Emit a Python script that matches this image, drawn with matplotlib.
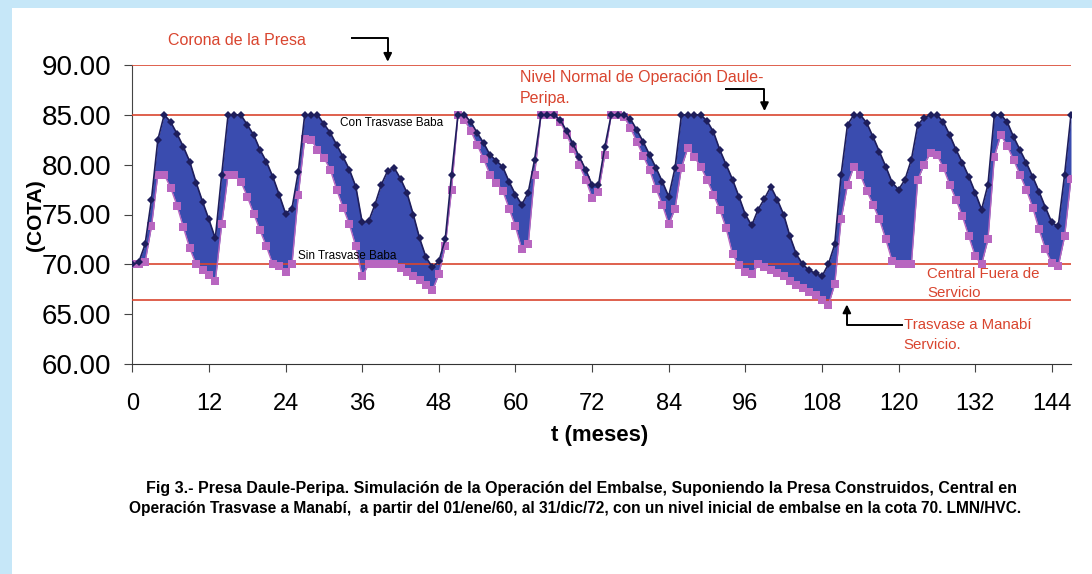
import numpy as np
import matplotlib
matplotlib.use("Agg")
import matplotlib.pyplot as plt
from matplotlib.patches import Rectangle

plt.rcParams['font.family'] = ['Liberation Sans', 'DejaVu Sans']

# niveles del embalse, mes a mes (lectura del grafico)
meses = np.arange(148)
con_trasvase = [
    70.0, 70.2, 72.0, 76.5, 82.5, 85.0, 84.3, 83.1, 81.8, 80.3,
    78.2, 76.3, 74.5, 72.6, 79.0, 85.0, 85.0, 85.0, 84.0, 83.0,
    81.5, 80.3, 78.8, 77.0, 75.1, 75.6, 79.3, 85.0, 85.0, 85.0,
    84.1, 83.2, 82.0, 80.8, 79.5, 77.8, 74.2, 74.3, 76.0, 78.0,
    79.4, 79.7, 78.6, 77.2, 75.0, 72.6, 70.7, 69.7, 70.3, 72.5,
    79.0, 85.0, 85.0, 84.3, 83.2, 82.2, 81.0, 80.4, 79.8, 78.3,
    77.0, 76.0, 77.2, 80.5, 85.0, 85.0, 85.0, 84.5, 83.4, 82.1,
    80.8, 79.5, 78.0, 78.0, 81.8, 85.0, 85.0, 85.0, 84.6, 83.5,
    82.3, 81.0, 79.7, 78.3, 76.8, 79.7, 85.0, 85.0, 85.0, 85.0,
    84.4, 83.3, 81.5, 80.0, 78.5, 76.8, 75.0, 73.9, 75.5, 76.6,
    77.8, 76.5, 75.0, 72.8, 71.0, 70.0, 69.4, 69.1, 68.8, 70.0,
    72.0, 79.0, 84.0, 85.0, 85.0, 84.2, 82.8, 81.3, 79.8, 78.2,
    77.5, 78.5, 80.5, 84.0, 84.7, 85.0, 85.0, 84.3, 83.0, 81.5,
    80.2, 78.8, 77.2, 75.5, 78.0, 85.0, 85.0, 84.3, 82.8, 81.5,
    80.2, 78.8, 77.3, 75.7, 74.2, 73.8, 79.0, 85.0,
]
sin_trasvase = [
    70.0, 70.0, 70.2, 73.8, 79.0, 79.0, 77.7, 75.9, 73.7, 71.6,
    70.0, 69.4, 68.9, 68.3, 74.0, 79.0, 79.0, 78.3, 76.8, 75.1,
    73.4, 71.8, 70.0, 69.8, 69.2, 70.0, 77.0, 82.6, 82.5, 81.5,
    80.7, 79.5, 77.5, 75.7, 74.0, 71.8, 68.8, 70.0, 70.0, 70.0,
    70.0, 70.0, 69.6, 69.2, 68.8, 68.4, 67.9, 67.4, 69.0, 71.8,
    77.5, 85.0, 84.5, 83.4, 82.0, 80.6, 79.0, 78.2, 77.4, 75.6,
    73.8, 71.5, 72.0, 79.0, 85.0, 85.0, 85.0, 84.3, 83.0, 81.6,
    80.0, 78.5, 76.7, 77.3, 81.0, 85.0, 85.0, 84.8, 83.7, 82.3,
    80.9, 79.5, 77.6, 76.0, 74.0, 75.6, 79.7, 81.7, 80.8, 79.8,
    78.5, 77.0, 75.5, 73.6, 71.0, 69.9, 69.2, 69.0, 70.0, 69.7,
    69.4, 69.1, 68.8, 68.3, 67.9, 67.6, 67.2, 66.9, 66.4, 65.9,
    68.0, 74.5, 78.0, 79.8, 79.0, 77.4, 76.0, 74.5, 72.5, 70.3,
    70.0, 70.0, 70.0, 78.5, 80.0, 81.2, 81.0, 79.7, 78.0, 76.5,
    74.8, 72.8, 70.8, 70.0, 72.5, 80.8, 83.0, 81.9, 80.5, 79.0,
    77.5, 75.7, 73.5, 71.5, 70.1, 69.8, 72.8, 78.6,
]
niveles_ref = [90.0, 85.0, 70.0, 66.4]
yticks = [60, 65, 70, 75, 80, 85, 90]
xticks = list(range(0, 145, 12))

rojo = '#d9452f'
flecha = dict(arrowstyle='-|>', color='black', lw=1.4, mutation_scale=12)

fig = plt.figure(figsize=(10.92, 5.74), dpi=100)
fig.patch.set_facecolor('#c6e7f8')
fig.patches.append(Rectangle((12 / 1092, 0), 1, 1 - 8 / 574, transform=fig.transFigure,
                             facecolor='white', edgecolor='none', zorder=-10))

ax = fig.add_axes([132.3 / 1092, 1 - 364 / 574, (1071 - 132.3) / 1092, (364 - 65) / 574])
ax.set_facecolor('white')

ax.fill_between(meses, sin_trasvase, con_trasvase, color='#3a4caf', lw=0, zorder=2)
for y in niveles_ref:
    ax.axhline(y, color=rojo, lw=1.2, zorder=3)
ax.plot(meses, sin_trasvase, color='#b866c0', lw=1.0, marker='s', markersize=5.2,
        markeredgewidth=0, zorder=4)
ax.plot(meses, con_trasvase, color='#1e1e5c', lw=1.2, marker='D', markersize=4.3,
        markeredgewidth=0, zorder=5)

ax.set_xlim(0, 147)
ax.set_ylim(60, 90)
ax.set_xticks(xticks)
ax.set_yticks(yticks)
ax.set_yticklabels(['%.2f' % v for v in yticks])
ax.tick_params(axis='y', labelsize=20, length=6, pad=9, color='#444444')
ax.tick_params(axis='x', labelsize=17, length=6, pad=15, color='#444444')
for s in ['top', 'right']:
    ax.spines[s].set_visible(False)
ax.spines['left'].set_color('#444444')
ax.spines['bottom'].set_color('#333333')

# textos y flechas
ax.text(5.6, 92.45, 'Corona de la Presa', color=rojo, fontsize=11.5, va='center', clip_on=False)
ax.plot([34.4, 40.0, 40.0], [92.7, 92.7, 91.3], color='black', lw=1.4, clip_on=False)
ax.annotate('', xy=(40.0, 90.05), xytext=(40.0, 91.5), arrowprops=flecha,
            annotation_clip=False)

ax.text(60.7, 88.7, 'Nivel Normal de Operación Daule-', color=rojo, fontsize=11.5, va='center')
ax.text(60.7, 86.6, 'Peripa.', color=rojo, fontsize=11.5, va='center')
ax.plot([93.0, 99.0, 99.0], [87.6, 87.6, 86.4], color='black', lw=1.4)
ax.annotate('', xy=(99.0, 85.1), xytext=(99.0, 86.6), arrowprops=flecha)

ax.text(32.5, 84.15, 'Con Trasvase Baba', color='black', fontsize=8.5, va='center', zorder=6)
ax.text(26.0, 70.8, 'Sin Trasvase Baba', color='black', fontsize=8.5, va='center', zorder=6)

ax.text(124.5, 69.0, 'Central Fuera de', color=rojo, fontsize=10.8, va='center', zorder=6)
ax.text(124.5, 67.1, 'Servicio', color=rojo, fontsize=10.8, va='center', zorder=6)

ax.text(120.8, 63.9, 'Trasvase a Manabí', color=rojo, fontsize=10.8, va='center')
ax.text(120.8, 61.9, 'Servicio.', color=rojo, fontsize=10.8, va='center')
ax.plot([120.5, 111.9, 111.9], [63.9, 63.9, 65.2], color='black', lw=1.4)
ax.annotate('', xy=(111.9, 66.25), xytext=(111.9, 65.0), arrowprops=flecha)

fig.text(35 / 1092, 1 - 215 / 574, '(COTA)', rotation=90, fontsize=15, fontweight='bold',
         ha='center', va='center')
fig.text(600 / 1092, 1 - 436 / 574, 't (meses)', fontsize=16, fontweight='bold',
         ha='center', va='center')

fig.text(581 / 1092, 1 - 489 / 574,
         'Fig 3.- Presa Daule-Peripa. Simulación de la Operación del Embalse, Suponiendo la Presa Construidos, Central en',
         fontsize=11.5, fontweight='bold', ha='center', va='center')
fig.text(575 / 1092, 1 - 509 / 574,
         'Operación Trasvase a Manabí,  a partir del 01/ene/60, al 31/dic/72, con un nivel inicial de embalse en la cota 70. LMN/HVC.',
         fontsize=11.2, fontweight='bold', ha='center', va='center')

fig.savefig('out.png', dpi=100, facecolor=fig.get_facecolor())
